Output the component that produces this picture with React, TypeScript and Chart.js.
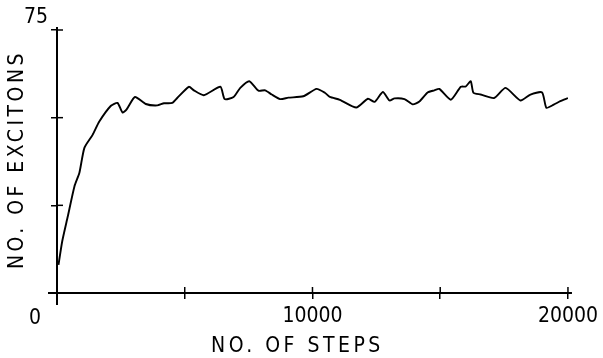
import React, { useEffect, useRef } from "react";
import { Chart, registerables } from "chart.js";

Chart.register(...registerables);

const steps = [
  58, 203, 421, 682, 877, 1072, 1394, 1655, 2111, 2368, 2563, 2719, 3052, 3474, 3926, 4187, 4510, 4705,
  5161, 5355, 5745, 6395, 6563, 6913, 7174, 7525, 7887, 8148, 8405, 8732, 9055, 9640, 10158, 10485,
  10680, 11070, 11716, 12171, 12432, 12755, 13016, 13211, 13601, 13924, 14185, 14508, 14769, 14964,
  15416, 15806, 16000, 16195, 16300, 16584, 17106, 17558, 18142, 18532, 18988, 19155, 19443, 19700, 20000,
];
const excitons = [
  8.0, 14.7, 21.8, 30.4, 34.3, 41.4, 45.1, 48.9, 53.4, 54.2, 51.5, 52.3, 55.9, 53.9, 53.5, 54.1, 54.2, 55.6,
  58.8, 57.8, 56.4, 58.8, 55.3, 55.9, 58.5, 60.4, 57.7, 57.8, 56.6, 55.3, 55.7, 56.1, 58.2, 57.1,
  55.9, 55.1, 52.9, 55.4, 54.5, 57.3, 54.9, 55.5, 55.3, 53.8, 54.6, 57.2, 57.8, 58.2,
  55.1, 58.8, 58.9, 60.4, 57.1, 56.6, 55.6, 58.5, 54.9, 56.6, 57.2, 52.8, 53.7, 54.7, 55.6,
];
const xTickLabels = ["10000", "20000"];
const yTickLabels = ["75"];
const originLabel = "0";
const xTitle = "NO. OF STEPS";
const yTitle = "NO. OF EXCITONS";

const FONT = "'DejaVu Sans Condensed', 'DejaVu Sans', sans-serif";

export default function App() {
  const ref = useRef<HTMLCanvasElement>(null);
  useEffect(() => {
    if (!ref.current) return;
    const extras = {
      id: "extras",
      afterDraw(chart: any) {
        const ctx = chart.ctx as CanvasRenderingContext2D;
        const xs = chart.scales.x;
        const ys = chart.scales.y;
        const x0 = xs.getPixelForValue(0);
        const y0 = ys.getPixelForValue(0);
        ctx.save();
        ctx.strokeStyle = "#000";
        ctx.lineWidth = 1.5;
        // inner halves of tick marks (crossing ticks)
        for (const v of [5000, 10000, 15000, 20000]) {
          const px = xs.getPixelForValue(v);
          ctx.beginPath();
          ctx.moveTo(px, y0);
          ctx.lineTo(px, y0 - 6);
          ctx.stroke();
        }
        for (const v of [25, 50, 75]) {
          const py = ys.getPixelForValue(v);
          ctx.beginPath();
          ctx.moveTo(x0, py);
          ctx.lineTo(x0 + 6, py);
          ctx.stroke();
        }
        // axis extensions
        ctx.lineWidth = 2;
        ctx.beginPath();
        ctx.moveTo(x0, ys.getPixelForValue(75) - 3);
        ctx.lineTo(x0, y0 + 12);
        ctx.moveTo(x0 - 9, y0);
        ctx.lineTo(xs.getPixelForValue(20000) + 4, y0);
        ctx.stroke();
        // origin label and axis titles
        ctx.fillStyle = "#000";
        ctx.font = `21px ${FONT}`;
        ctx.textAlign = "center";
        ctx.textBaseline = "middle";
        ctx.fillText(originLabel, x0 - 22, y0 + 26);
        (ctx as any).letterSpacing = "3.5px";
        ctx.fillText(xTitle, (x0 + xs.getPixelForValue(20000)) / 2 - 15, 347);
        ctx.translate(18, (ys.getPixelForValue(0) + ys.getPixelForValue(75)) / 2 - 2);
        ctx.rotate(-Math.PI / 2);
        ctx.fillText(yTitle, 0, 0);
        ctx.restore();
      },
    };
    const chart = new Chart(ref.current, {
      type: "line",
      data: {
        datasets: [
          {
            data: steps.map((s, i) => ({ x: s, y: excitons[i] })),
            borderColor: "#000",
            borderWidth: 1.9,
            pointRadius: 0,
            tension: 0.2,
            fill: false,
          },
        ],
      },
      plugins: [extras],
      options: {
        animation: false,
        responsive: false,
        layout: { padding: { top: 30, right: 32, left: 0, bottom: 0 } },
        plugins: { legend: { display: false }, tooltip: { enabled: false } },
        scales: {
          x: {
            type: "linear",
            min: 0,
            max: 20000,
            afterFit: (s: any) => {
              s.height = 65;
            },
            afterBuildTicks: (s: any) => {
              s.ticks = [0, 5000, 10000, 15000, 20000].map((v) => ({ value: v }));
            },
            ticks: {
              autoSkip: false,
              maxRotation: 0,
              color: "#000",
              padding: 5,
              font: { family: FONT, size: 21 },
              callback: (v: any) => {
                const s = String(v);
                return xTickLabels.includes(s) ? s : "";
              },
            },
            grid: { drawOnChartArea: false, drawTicks: true, tickLength: 6, color: "#000", lineWidth: 1.5 },
            border: { display: true, color: "#000", width: 2 },
          },
          y: {
            min: 0,
            max: 75,
            afterFit: (s: any) => {
              s.width = 57;
            },
            afterBuildTicks: (s: any) => {
              s.ticks = [0, 25, 50, 75].map((v) => ({ value: v }));
            },
            ticks: {
              autoSkip: false,
              color: "#000",
              padding: 3,
              labelOffset: -12,
              font: { family: FONT, size: 21 },
              callback: (v: any) => {
                const s = String(v);
                return yTickLabels.includes(s) ? s : "";
              },
            },
            grid: { drawOnChartArea: false, drawTicks: true, tickLength: 6, color: "#000", lineWidth: 1.5 },
            border: { display: true, color: "#000", width: 2 },
          },
        },
      },
    });
    return () => chart.destroy();
  }, []);
  return (
    <div style={{ position: "absolute", left: 0, top: 0, width: 603, height: 358, background: "#fff" }}>
      <canvas ref={ref} width={603} height={358} style={{ display: "block" }} />
    </div>
  );
}
